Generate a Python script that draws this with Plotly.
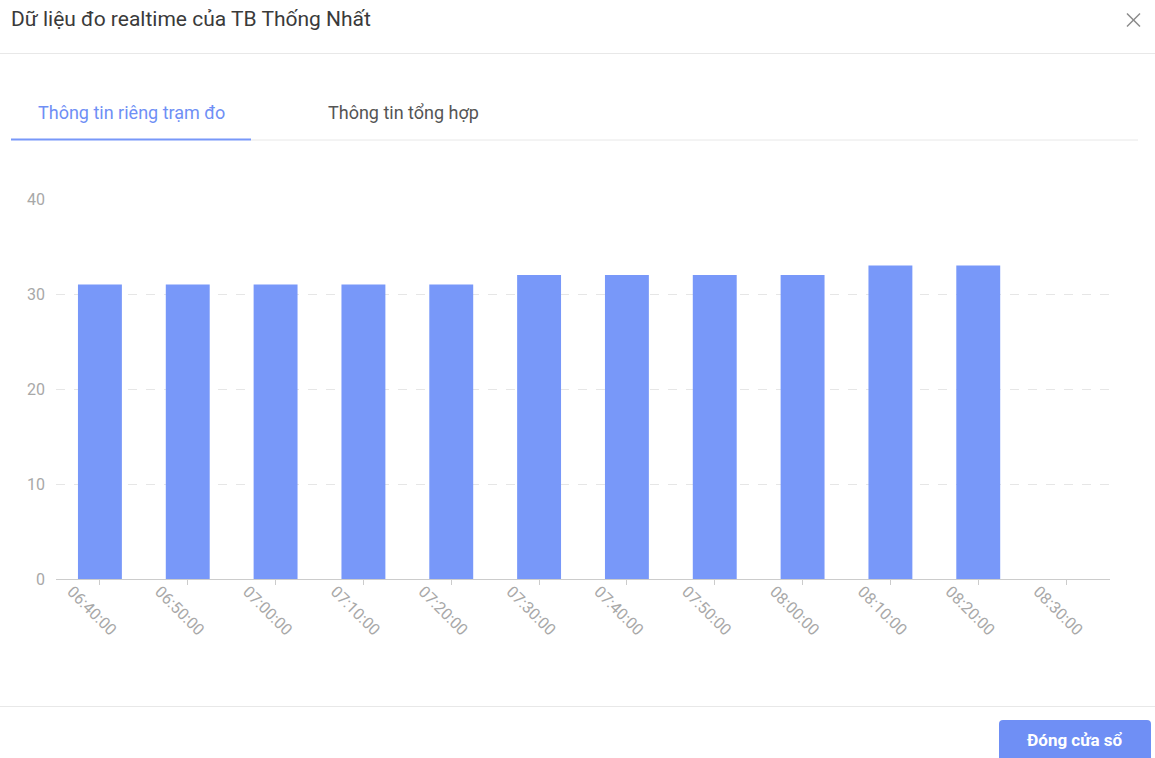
import plotly.graph_objects as go

categories = ["06:40:00", "06:50:00", "07:00:00", "07:10:00", "07:20:00", "07:30:00",
              "07:40:00", "07:50:00", "08:00:00", "08:10:00", "08:20:00", "08:30:00"]
values = [31, 31, 31, 31, 31, 32, 32, 32, 32, 33, 33, None]
y_ticks = [0, 10, 20, 30, 40]

W, H = 1155, 758
L, R, T, B = 56, 1110, 199, 579

def px(x):
    return (x - L) / (R - L)

def py(y):
    return (B - y) / (B - T)

def rounded_rect(x0, y0, x1, y1, r):
    pts = [
        f"M {px(x0 + r)} {py(y0)}",
        f"L {px(x1 - r)} {py(y0)}",
        f"Q {px(x1)} {py(y0)} {px(x1)} {py(y0 + r)}",
        f"L {px(x1)} {py(y1 - r)}",
        f"Q {px(x1)} {py(y1)} {px(x1 - r)} {py(y1)}",
        f"L {px(x0 + r)} {py(y1)}",
        f"Q {px(x0)} {py(y1)} {px(x0)} {py(y1 - r)}",
        f"L {px(x0)} {py(y0 + r)}",
        f"Q {px(x0)} {py(y0)} {px(x0 + r)} {py(y0)}",
        "Z",
    ]
    return " ".join(pts)

BLUE = "#7898f9"
FONT = "Roboto"

fig = go.Figure()
fig.add_trace(go.Bar(
    x=categories, y=values, width=0.5,
    marker=dict(color=BLUE, line=dict(width=0)),
    hoverinfo="x+y",
))

shapes = [
    dict(type="line", xref="paper", yref="paper", x0=px(0), x1=px(W), y0=py(53.5), y1=py(53.5),
         line=dict(color="#e8e8e8", width=1)),
    dict(type="line", xref="paper", yref="paper", x0=px(251), x1=px(1138), y0=py(140), y1=py(140),
         line=dict(color="#e8e8e8", width=1)),
    dict(type="line", xref="paper", yref="paper", x0=px(11), x1=px(251), y0=py(139.5), y1=py(139.5),
         line=dict(color=BLUE, width=2)),
    dict(type="line", xref="paper", yref="paper", x0=px(0), x1=px(W), y0=py(706.5), y1=py(706.5),
         line=dict(color="#e8e8e8", width=1)),
    dict(type="path", xref="paper", yref="paper", path=rounded_rect(999, 720, 1151, 766, 4),
         fillcolor="#6f8ff5", line=dict(width=0), layer="above"),
    dict(type="line", xref="paper", yref="paper", x0=px(1127), x1=px(1140), y0=py(13.5), y1=py(26.5),
         line=dict(color="#8a8a8a", width=1.5)),
    dict(type="line", xref="paper", yref="paper", x0=px(1127), x1=px(1140), y0=py(26.5), y1=py(13.5),
         line=dict(color="#8a8a8a", width=1.5)),
]

annotations = [
    dict(text="Dữ liệu đo realtime của TB Thống Nhất", xref="paper", yref="paper",
         x=px(9), y=py(19), xanchor="left", yanchor="middle", showarrow=False,
         font=dict(family=FONT, size=21, color="#3a3a3a")),
    dict(text="Thông tin riêng trạm đo", xref="paper", yref="paper",
         x=px(131), y=py(113), xanchor="center", yanchor="middle", showarrow=False,
         font=dict(family=FONT, size=18, color="#6f8ff5")),
    dict(text="Thông tin tổng hợp", xref="paper", yref="paper",
         x=px(403), y=py(113), xanchor="center", yanchor="middle", showarrow=False,
         font=dict(family=FONT, size=18, color="#555555")),
    dict(text="<b>Đóng cửa sổ</b>", xref="paper", yref="paper",
         x=px(1075), y=py(740), xanchor="center", yanchor="middle", showarrow=False,
         font=dict(family=FONT, size=17, color="#ffffff")),
]

fig.update_layout(
    width=W, height=H,
    margin=dict(l=L, r=W - R, t=T, b=H - B, pad=0),
    paper_bgcolor="white", plot_bgcolor="white",
    showlegend=False, bargap=0.5,
    font=dict(family=FONT, size=14, color="#999999"),
    shapes=shapes, annotations=annotations,
    xaxis=dict(
        type="category", categoryorder="array", categoryarray=categories,
        range=[-0.5, len(categories) - 0.5],
        tickangle=45, showgrid=False, zeroline=False,
        showline=True, linecolor="#cccccc", linewidth=1,
        ticks="outside", ticklen=5, tickcolor="#cccccc",
        tickfont=dict(family=FONT, size=16, color="#a8a8a8"),
        ticklabelshift=-28, ticklabelstandoff=-9,
        fixedrange=True,
    ),
    yaxis=dict(
        range=[0, 40], tickvals=y_ticks, showgrid=True,
        gridcolor="#e6e6e6", griddash="dash", gridwidth=1,
        zeroline=False, showline=False, ticks="",
        tickfont=dict(family=FONT, size=16, color="#a8a8a8"),
        ticklabelstandoff=10, fixedrange=True,
    ),
)

fig.write_html("out.html", config={"displayModeBar": False})
